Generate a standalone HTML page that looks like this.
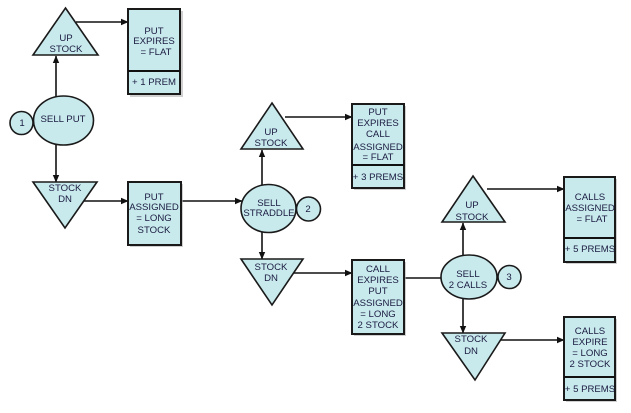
<!DOCTYPE html>
<html><head><meta charset="utf-8"><style>
html,body{margin:0;padding:0;background:#fff;}
svg{display:block;}
text{font-family:"Liberation Sans",Arial,sans-serif;font-size:9.6px;fill:#1b1b40;text-anchor:middle;}
.s{fill:#c8eaed;stroke:#1a1a1a;stroke-width:1.6;}
.b{fill:#c8eaed;stroke:#1a1a1a;stroke-width:2;}
.sh{fill:#b0b0b0;opacity:0.6;}
.l{stroke:#111;stroke-width:1.6;fill:none;}
</style></head><body>
<svg width="631" height="413" viewBox="0 0 631 413" xmlns="http://www.w3.org/2000/svg">
<defs>
<marker id="a" markerWidth="8" markerHeight="8" refX="7" refY="4" orient="auto" markerUnits="userSpaceOnUse">
<path d="M0,0.8 L7.5,4 L0,7.2 Z" fill="#111"/>
</marker>
</defs>

<!-- connectors -->
<line class="l" x1="76" y1="22" x2="128" y2="22" marker-end="url(#a)"/>
<line class="l" x1="56" y1="97" x2="56" y2="56" marker-end="url(#a)"/>
<line class="l" x1="56" y1="145" x2="56" y2="182" marker-end="url(#a)"/>
<line class="l" x1="78" y1="201" x2="128" y2="201" marker-end="url(#a)"/>
<line class="l" x1="181" y1="201" x2="242" y2="201" marker-end="url(#a)"/>
<line class="l" x1="285" y1="117" x2="352" y2="117" marker-end="url(#a)"/>
<line class="l" x1="262" y1="185" x2="262" y2="150" marker-end="url(#a)"/>
<line class="l" x1="262" y1="232" x2="262" y2="259" marker-end="url(#a)"/>
<line class="l" x1="285" y1="273" x2="352" y2="273" marker-end="url(#a)"/>
<line class="l" x1="404" y1="278" x2="442" y2="278"/>
<line class="l" x1="487" y1="189" x2="564" y2="189" marker-end="url(#a)"/>
<line class="l" x1="463" y1="256" x2="463" y2="223" marker-end="url(#a)"/>
<line class="l" x1="463" y1="298" x2="463" y2="333" marker-end="url(#a)"/>
<line class="l" x1="492" y1="340" x2="564" y2="340" marker-end="url(#a)"/>

<!-- Column 1 -->
<polygon class="s" points="65.5,8 98,55 33,55"/>
<text x="66" y="41">UP</text>
<text x="66" y="52">STOCK</text>

<rect class="sh" x="130" y="11" width="53" height="86"/>
<rect class="b" x="128" y="9" width="52" height="85"/>
<line class="l" x1="128" y1="71" x2="180" y2="71" style="stroke-width:2"/>
<text x="154" y="34">PUT</text>
<text x="154" y="44">EXPIRES</text>
<text x="156" y="55">= FLAT</text>
<text x="154" y="85">+ 1 PREM</text>

<ellipse class="s" cx="63.5" cy="120.5" rx="30" ry="24.5"/>
<text x="63" y="122">SELL PUT</text>
<circle class="s" cx="21.5" cy="123" r="11.5"/>
<text x="22" y="126">1</text>

<polygon class="s" points="33,182 97,182 65,228"/>
<text x="65" y="191">STOCK</text>
<text x="65" y="202">DN</text>

<rect class="sh" x="130" y="184" width="53" height="63"/>
<rect class="b" x="128" y="182" width="53" height="63"/>
<text x="154" y="200">PUT</text>
<text x="154" y="210">ASSIGNED</text>
<text x="154" y="221">= LONG</text>
<text x="154" y="233">STOCK</text>

<!-- Column 2 -->
<polygon class="s" points="272,103 303,149 241,149"/>
<text x="271" y="135">UP</text>
<text x="271" y="146">STOCK</text>

<rect class="sh" x="354" y="106" width="52" height="84"/>
<rect class="b" x="352" y="104" width="52" height="84"/>
<line class="l" x1="352" y1="165" x2="404" y2="165" style="stroke-width:2"/>
<text x="378" y="115">PUT</text>
<text x="378" y="126">EXPIRES</text>
<text x="378" y="137">CALL</text>
<text x="378" y="150">ASSIGNED</text>
<text x="378" y="160">= FLAT</text>
<text x="378" y="180">+ 3 PREMS</text>

<ellipse class="s" cx="268.5" cy="208.5" rx="27.5" ry="24"/>
<text x="269" y="206">SELL</text>
<text x="269" y="216">STRADDLE</text>
<circle class="s" cx="308.5" cy="209" r="12"/>
<text x="308" y="212">2</text>

<polygon class="s" points="241,259 303,259 272,305"/>
<text x="271" y="270">STOCK</text>
<text x="271" y="281">DN</text>

<rect class="sh" x="354" y="262" width="52" height="74"/>
<rect class="b" x="352" y="260" width="52" height="74"/>
<text x="378" y="272">CALL</text>
<text x="378" y="283">EXPIRES</text>
<text x="378" y="294">PUT</text>
<text x="378" y="306">ASSIGNED</text>
<text x="378" y="317">= LONG</text>
<text x="378" y="328">2 STOCK</text>

<!-- Column 3 -->
<polygon class="s" points="473,176 505,222 442,222"/>
<text x="472" y="208">UP</text>
<text x="472" y="220">STOCK</text>

<ellipse class="s" cx="469" cy="277" rx="28" ry="22"/>
<text x="468" y="277">SELL</text>
<text x="468" y="288">2 CALLS</text>
<circle class="s" cx="509.5" cy="277" r="11.5"/>
<text x="509" y="280">3</text>

<polygon class="s" points="442,333 505,333 475,380"/>
<text x="471" y="342">STOCK</text>
<text x="471" y="354">DN</text>

<rect class="sh" x="566" y="179" width="51" height="85"/>
<rect class="b" x="564" y="177" width="51" height="85"/>
<line class="l" x1="564" y1="238" x2="615" y2="238" style="stroke-width:2"/>
<text x="590" y="200">CALLS</text>
<text x="590" y="211">ASSIGNED</text>
<text x="592" y="222">= FLAT</text>
<text x="590" y="252">+ 5 PREMS</text>

<rect class="sh" x="566" y="319" width="51" height="83"/>
<rect class="b" x="564" y="317" width="51" height="83"/>
<line class="l" x1="564" y1="377" x2="615" y2="377" style="stroke-width:2"/>
<text x="590" y="334">CALLS</text>
<text x="590" y="345">EXPIRE</text>
<text x="590" y="356">= LONG</text>
<text x="590" y="367">2 STOCK</text>
<text x="590" y="392">+ 5 PREMS</text>
</svg>
</body></html>
